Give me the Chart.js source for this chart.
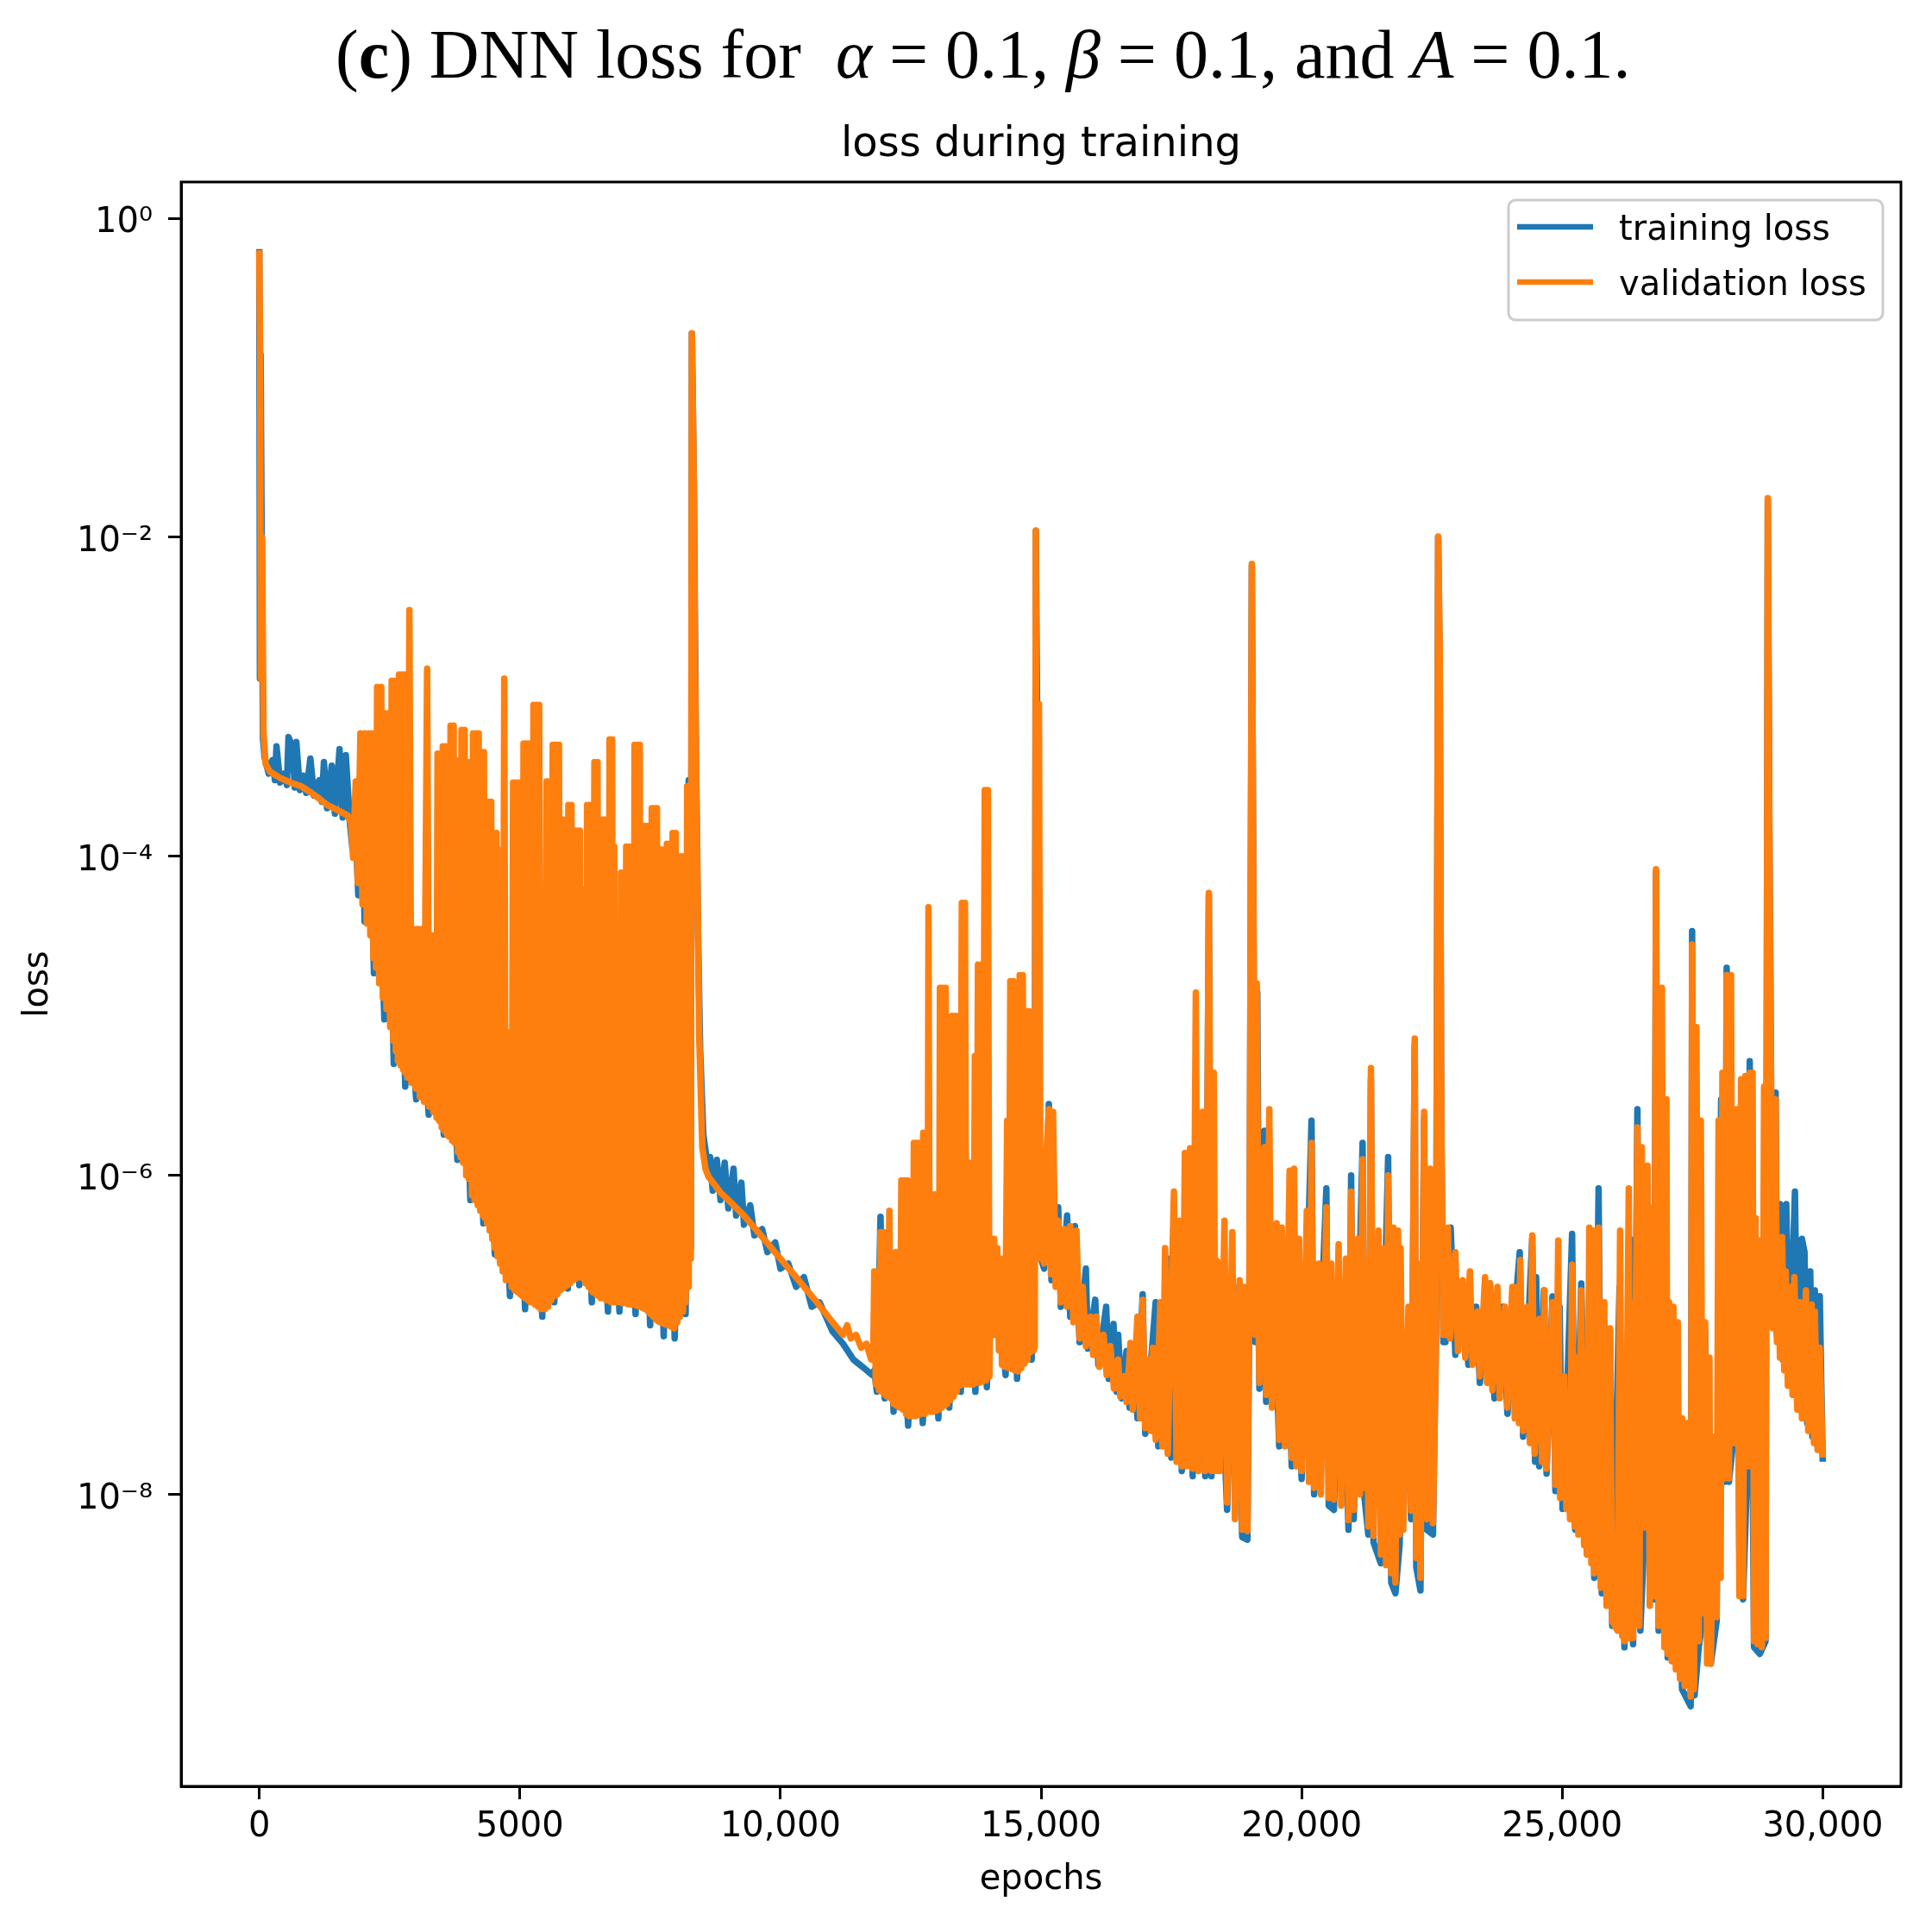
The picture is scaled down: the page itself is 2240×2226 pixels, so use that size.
<!DOCTYPE html>
<html><head><meta charset="utf-8">
<script src="https://cdn.jsdelivr.net/npm/chart.js@4.4.1/dist/chart.umd.min.js"></script>
<style>
html,body{margin:0;padding:0;background:#fff;}
#wrap{position:relative;width:2240px;height:2226px;background:#fff;}
#cap{position:absolute;left:389px;top:23px;white-space:nowrap;font-family:"Liberation Serif",serif;font-size:80px;line-height:80px;color:#000;}
#cap b{font-weight:bold;}
#cap i{font-style:italic;}
canvas{position:absolute;left:0;top:0;}
</style></head><body>
<div id="wrap"><canvas id="c" width="2240" height="2226"></canvas>
<div id="cap">(<b>c</b>) DNN loss for&nbsp; <i>α</i> = 0.1, <i>β</i> = 0.1, and <i>A</i> = 0.1.</div></div>
<script>
// ---- tick labels ----
const xTickValues = [0, 5000, 10000, 15000, 20000, 25000, 30000];
const xTickLabels = ['0', '5000', '10,000', '15,000', '20,000', '25,000', '30,000'];
const yTickValues = [1e-8, 1e-6, 1e-4, 1e-2, 1];
const yTickLabels = ['10\u207B\u2078', '10\u207B\u2076', '10\u207B\u2074', '10\u207B\u00B2', '10\u2070'];
const seriesNames = ['training loss', 'validation loss'];

// ---- validation loss [epoch, loss] ----
const valStart = [[0,0.63],[15,0.14],[30,1.3e-3],[55,1.0e-2],[80,6e-4],[120,3.8e-4],[200,3.4e-4],[400,3.1e-4],[600,2.9e-4],[800,2.75e-4],[1000,2.5e-4],[1150,2.3e-4],[1300,2.1e-4],[1500,1.95e-4],[1700,1.8e-4]];
const valBand1 = [[1760,1.6e-4],[1800,9.8e-5],[1850,2.95e-4],[1890,6.8e-5],[1940,5.9e-4],[1980,5.0e-5],[2020,5.9e-4],[2060,3.8e-5],[2100,5.9e-4],[2130,3.2e-5],[2160,5.9e-4],[2190,2.3e-5],[2210,4.1e-4],[2240,2.0e-5],[2260,1.15e-3],[2300,1.6e-5],[2340,1.15e-3],[2370,1.3e-5],[2400,7.9e-4],[2440,1.1e-5],[2480,7.9e-4],[2510,8.5e-6],[2540,1.26e-3],[2570,7.0e-6],[2600,1.26e-3],[2620,6.0e-6],[2640,4.3e-4],[2660,5.2e-6],[2680,1.38e-3],[2710,4.9e-6],[2740,1.38e-3],[2760,4.6e-6],[2780,1.38e-3],[2800,4.4e-6],[2820,3.2e-5],[2840,4.1e-6],[2880,3.5e-3],[2920,3.8e-6],[2960,3.5e-5],[3000,3.5e-6],[3040,3.5e-5],[3080,3.1e-6],[3120,3.5e-5],[3160,2.9e-6],[3220,1.5e-3],[3260,2.7e-6],[3300,3.2e-5],[3340,2.5e-6],[3380,3.2e-5],[3400,2.3e-6],[3420,4.4e-4],[3450,2.2e-6],[3470,4.4e-4],[3500,2.0e-6],[3520,4.9e-4],[3550,1.9e-6],[3580,4.9e-4],[3600,1.8e-6],[3620,1.8e-4],[3640,1.75e-6],[3670,6.6e-4],[3700,1.65e-6],[3730,6.6e-4],[3750,1.6e-6],[3780,4.0e-4],[3810,1.4e-6],[3830,4.0e-4],[3860,1.3e-6],[3880,6.2e-4],[3910,1.2e-6],[3940,6.2e-4],[3970,1.0e-6],[3990,3.9e-4],[4020,9.5e-7],[4050,3.9e-4],[4080,7.5e-7],[4100,5.9e-4],[4130,7.0e-7],[4160,5.9e-4],[4190,6.5e-7],[4210,5.9e-4],[4240,6.0e-7],[4260,4.5e-4],[4290,5.6e-7],[4310,4.5e-4],[4330,5.4e-7],[4350,1.26e-4],[4370,5.0e-7],[4390,2.2e-4],[4420,4.5e-7],[4450,2.2e-4],[4470,4.0e-7],[4490,1.4e-4],[4520,3.5e-7],[4550,1.4e-4],[4570,3.1e-7],[4590,1.1e-4],[4620,2.8e-7],[4640,1.1e-4],[4670,2.5e-7],[4700,1.3e-3],[4730,2.2e-7],[4790,7.9e-6],[4840,2.0e-7],[4870,2.9e-4],[4900,1.9e-7],[4930,2.9e-4],[4960,1.85e-7],[4990,2.9e-4],[5010,1.8e-7],[5030,2.0e-4],[5050,1.75e-7],[5070,5.1e-4],[5100,1.7e-7],[5130,5.1e-4],[5160,1.65e-7],[5180,5.1e-4],[5200,1.6e-7],[5220,4.1e-5],[5240,1.6e-7],[5260,8.9e-4],[5290,1.55e-7],[5320,8.9e-4],[5350,1.5e-7],[5370,8.9e-4],[5400,1.45e-7],[5440,6.0e-6],[5480,1.45e-7],[5510,2.95e-4],[5540,1.5e-7],[5570,2.95e-4],[5600,1.65e-7],[5630,5.0e-4],[5660,1.75e-7],[5690,5.0e-4],[5720,1.8e-7],[5750,5.0e-4],[5770,1.9e-7],[5790,1.0e-5],[5810,1.95e-7],[5830,1.7e-4],[5860,2.0e-7],[5890,1.7e-4],[5910,2.05e-7],[5930,2.1e-4],[5960,2.1e-7],[5990,2.1e-4],[6020,2.2e-7],[6040,1.45e-4],[6070,2.25e-7],[6100,1.45e-4],[6130,2.3e-7],[6150,1.45e-4],[6170,2.3e-7],[6190,6.2e-5],[6220,2.25e-7],[6250,6.2e-5],[6260,2.1e-7],[6290,2.1e-4],[6320,2.0e-7],[6350,2.1e-4],[6370,1.9e-7],[6390,8.1e-5],[6400,1.85e-7],[6430,3.9e-4],[6460,1.8e-7],[6490,3.9e-4],[6510,1.75e-7],[6530,4.9e-5],[6550,1.7e-7],[6570,1.7e-4],[6600,1.7e-7],[6630,1.7e-4],[6660,1.65e-7],[6680,1.7e-4],[6700,1.65e-7],[6720,5.4e-4],[6750,1.6e-7],[6770,5.4e-4],[6790,1.6e-7],[6810,1.15e-4],[6830,1.6e-7],[6880,7.9e-6],[6920,1.6e-7],[6940,7.9e-5],[6970,1.58e-7],[7000,7.9e-5],[7020,1.58e-7],[7040,1.15e-4],[7070,1.56e-7],[7100,1.15e-4],[7130,1.55e-7],[7160,1.15e-4],[7180,1.55e-7],[7200,5.0e-4],[7230,1.53e-7],[7260,5.0e-4],[7290,1.5e-7],[7300,5.0e-4],[7320,1.5e-7],[7335,1.0e-5],[7350,1.48e-7],[7370,1.55e-4],[7400,1.45e-7],[7430,1.55e-4],[7460,1.4e-7],[7490,1.55e-4],[7510,1.35e-7],[7530,2.0e-4],[7560,1.3e-7],[7590,2.0e-4],[7610,1.25e-7],[7630,2.0e-4],[7650,1.22e-7],[7670,2.0e-5],[7690,1.2e-7],[7710,1.1e-4],[7740,1.18e-7],[7770,1.1e-4],[7800,1.16e-7],[7820,1.2e-4],[7850,1.15e-7],[7880,1.2e-4],[7910,1.12e-7],[7930,1.4e-4],[7960,1.1e-7],[7990,1.4e-4],[8020,1.2e-7],[8040,1.0e-4],[8070,1.3e-7],[8100,1.0e-4],[8130,1.4e-7],[8160,1.0e-4],[8180,1.6e-7],[8210,2.75e-4],[8240,2.0e-7],[8260,2.75e-4],[8280,3.0e-7]];
const valSpike1 = [[8300,0.19],[8330,0.035],[8360,1.5e-3],[8400,1.2e-4],[8440,7.6e-6],[8500,1.5e-6],[8560,1.1e-6]];
const valSmooth1 = [[8620,9.8e-7],[8850,7.8e-7],[9000,7.0e-7],[9300,5.6e-7],[9600,4.3e-7],[10000,3.0e-7],[10300,2.3e-7],[10700,1.6e-7],[11000,1.2e-7],[11200,1.0e-7],[11280,1.15e-7],[11350,9.5e-8],[11450,1.0e-7],[11550,8.3e-8],[11650,8.8e-8],[11740,7.0e-8]];
const valBand2 = [[11780,7.0e-8],[11800,2.5e-7],[11830,4.9e-8],[11860,2.5e-7],[11890,4.5e-8],[11920,4.4e-7],[11950,4.4e-8],[11980,4.4e-7],[12010,4.2e-8],[12030,1.45e-7],[12050,4.1e-8],[12090,6.0e-7],[12120,4.0e-8],[12150,1.5e-7],[12170,3.7e-8],[12200,3.3e-7],[12230,3.6e-8],[12260,3.3e-7],[12290,3.5e-8],[12320,9.3e-7],[12350,3.4e-8],[12380,9.3e-7],[12410,3.2e-8],[12440,9.3e-7],[12470,3.1e-8],[12500,1.9e-7],[12530,3.1e-8],[12560,1.6e-6],[12590,3.1e-8],[12620,1.6e-6],[12650,3.15e-8],[12680,1.6e-6],[12710,3.2e-8],[12740,1.85e-6],[12770,3.2e-8],[12800,1.85e-6],[12820,3.3e-8],[12840,4.8e-5],[12870,3.3e-8],[12900,7.6e-7],[12930,3.3e-8],[12960,7.6e-7],[12990,3.35e-8],[13020,7.6e-7],[13040,3.4e-8],[13060,1.5e-5],[13090,3.5e-8],[13120,1.5e-5],[13150,3.6e-8],[13170,1.5e-5],[13200,3.7e-8],[13230,6.2e-6],[13260,3.9e-8],[13290,1.0e-5],[13320,4.1e-8],[13350,1.0e-5],[13380,4.4e-8],[13410,1.0e-5],[13440,4.8e-8],[13480,5.1e-5],[13510,4.9e-8],[13540,5.1e-5],[13570,4.9e-8],[13610,1.2e-6],[13640,4.9e-8],[13670,1.2e-6],[13700,4.9e-8],[13730,5.6e-6],[13760,5.0e-8],[13790,2.1e-5],[13820,5.0e-8],[13850,2.1e-5],[13880,5.1e-8],[13920,2.6e-4],[13950,5.2e-8],[13980,2.6e-4],[14010,5.5e-8],[14040,4.0e-7],[14070,1.0e-7],[14100,4.0e-7],[14130,1.1e-7],[14160,3.5e-7],[14190,8.0e-8],[14220,3.0e-7],[14250,6.5e-8],[14280,3.0e-7],[14310,6.3e-8],[14350,2.2e-6],[14380,6.2e-8],[14410,1.65e-5],[14440,6.1e-8],[14470,1.65e-5],[14500,6.0e-8],[14530,9.5e-6],[14560,5.9e-8],[14590,1.8e-5],[14620,6.2e-8],[14650,1.8e-5],[14680,6.6e-8],[14710,1.07e-5],[14740,7.0e-8],[14770,1.07e-5],[14800,7.8e-8],[14830,4.0e-6],[14860,8.0e-8],[14880,8.5e-8]];
const valSpike2 = [[14900,1.1e-2],[14930,3.0e-7],[14960,9.0e-4],[14990,3.4e-7]];
const valDecline = [[15060,2.8e-7],[15110,1.5e-6],[15150,2.6e-6],[15190,2.4e-7],[15230,2.5e-6],[15280,2.0e-7],[15330,5.2e-7],[15380,1.6e-7],[15450,4.6e-7],[15500,1.5e-7],[15560,4.8e-7],[15620,1.2e-7],[15680,4.5e-7],[15740,9.5e-8],[15800,2.0e-7],[15860,8.5e-8],[15950,1.3e-7],[16000,7.5e-8],[16060,1.3e-7],[16120,6.3e-8],[16200,1.0e-7],[16260,5.6e-8],[16330,8.5e-8],[16400,4.6e-8],[16480,7.0e-8],[16520,4.1e-8],[16600,5.5e-8],[16640,3.8e-8],[16716,8.9e-8],[16760,3.4e-8],[16850,1.3e-7],[16900,3.0e-8],[16950,1.66e-7],[17000,2.6e-8],[17060,7.0e-8],[17100,2.5e-8],[17145,8.3e-8],[17200,2.2e-8],[17290,1.6e-7],[17330,2.0e-8],[17380,3.5e-7],[17430,1.8e-8],[17550,7.9e-7],[17600,1.6e-8],[17650,5.2e-7],[17700,1.5e-8]];
const valBand3 = [[17760,1.38e-6],[17800,1.5e-8],[17860,1.48e-6],[17910,1.45e-8],[17970,1.4e-5],[18020,1.4e-8],[18100,2.5e-6],[18150,1.4e-8],[18220,5.9e-5],[18270,1.4e-8],[18315,4.4e-6],[18350,1.4e-8],[18380,2.9e-7],[18430,1.4e-8],[18520,5.2e-7],[18570,8.9e-9],[18670,4.4e-7],[18720,7.0e-9],[18810,2.2e-7],[18860,6.0e-9],[18900,2.0e-7],[18960,5.9e-9],[19000,3.0e-7]];
const valSpike3 = [[19045,6.8e-3],[19080,2.0e-5],[19110,1.0e-7],[19140,1.6e-5],[19180,8.0e-8]];
const valBand4 = [[19190,5.0e-8],[19240,8.0e-7],[19285,1.5e-6],[19320,4.2e-8],[19380,2.6e-6],[19430,3.5e-8],[19520,5.0e-7],[19570,2.2e-8],[19620,4.7e-7],[19680,2.0e-8],[19770,1.07e-6],[19810,1.7e-8],[19856,1.1e-6],[19900,1.5e-8],[19950,4.0e-7],[20000,1.4e-8],[20100,6.0e-7],[20140,1.2e-8],[20190,1.6e-6],[20240,1.1e-8],[20330,2.8e-7],[20370,1.0e-8],[20475,6.3e-7],[20520,9.5e-9],[20570,2.8e-7],[20620,9.3e-9],[20710,3.7e-7],[20760,8.5e-9],[20850,3.0e-7],[20900,6.9e-9],[20950,7.9e-7],[21000,8.0e-9],[21080,4.0e-7],[21120,1.0e-8],[21170,1.26e-6],[21200,1.1e-8],[21250,3.0e-7],[21280,6.3e-9],[21330,4.7e-6],[21380,5.5e-9],[21475,4.5e-7],[21520,4.2e-9],[21580,3.5e-7],[21620,3.6e-9],[21660,1.0e-6],[21720,3.2e-9],[21760,4.7e-7],[21800,2.8e-9],[21850,4.5e-7],[21880,5.6e-9],[21900,3.5e-7],[21950,6.0e-9],[22050,1.5e-7],[22100,7.9e-9],[22170,7.2e-6],[22200,4.0e-9],[22235,2.8e-7],[22280,3.0e-9],[22350,2.5e-6],[22400,7.0e-9],[22470,1.1e-6],[22520,6.6e-9],[22580,1.0e-7]];
const valSpike4 = [[22620,1.01e-2],[22650,2.0e-3],[22680,2.2e-6],[22720,1.0e-7]];
const valBand5 = [[22760,1.0e-7],[22806,4.7e-7],[22850,9.5e-8],[22950,3.3e-7],[23000,7.9e-8],[23090,2.2e-7],[23140,7.2e-8],[23230,2.5e-7],[23280,6.5e-8],[23377,1.4e-7],[23420,5.5e-8],[23520,2.3e-7],[23560,5.0e-8],[23615,2.1e-7],[23660,4.5e-8],[23757,2.0e-7],[23800,4.0e-8],[23900,1.5e-7],[23950,3.5e-8],[24043,2.0e-7],[24090,3.0e-8],[24138,2.0e-7],[24170,2.8e-8],[24195,2.95e-7],[24250,2.5e-8],[24330,1.5e-7],[24380,2.1e-8],[24425,4.2e-7],[24470,1.8e-8],[24565,1.26e-7],[24610,1.6e-8],[24660,1.9e-7],[24700,1.45e-8],[24814,1.6e-7],[24870,1.15e-8],[24924,3.9e-7],[24960,9.5e-9],[25040,5.5e-8],[25080,8.1e-9],[25100,3.7e-8],[25150,7.0e-9],[25190,2.75e-7],[25240,6.3e-9],[25280,7.2e-8],[25310,5.6e-9],[25366,1.9e-7],[25420,4.8e-9],[25465,5.5e-8],[25476,4.2e-9],[25520,4.7e-7],[25560,3.7e-9],[25590,4.5e-7],[25615,3.2e-9],[25698,4.7e-7],[25740,2.6e-9],[25808,1.6e-7],[25850,2.0e-9],[25918,1.1e-7],[25960,1.6e-9],[26060,1.4e-9],[26111,4.5e-7],[26150,1.3e-9],[26170,7.2e-8],[26195,1.2e-9],[26278,8.3e-7],[26300,1.25e-9],[26333,1.6e-7],[26360,1.26e-9],[26443,2.0e-6],[26480,1.5e-9],[26526,1.5e-6],[26582,6.2e-9],[26637,1.15e-6],[26680,2.0e-9],[26720,6.3e-7],[26760,2.3e-9],[26800,8.3e-5],[26850,1.5e-9],[26913,1.5e-5],[26960,1.1e-9],[27000,3.0e-6],[27024,1.0e-9],[27050,1.6e-7],[27100,9.0e-10],[27135,1.5e-7],[27180,8.0e-10],[27218,1.2e-7],[27260,7.0e-10],[27300,3.0e-8],[27350,6.3e-10],[27410,2.8e-8],[27465,5.4e-10],[27493,2.8e-5],[27530,6.0e-10],[27576,8.5e-6],[27620,1.2e-9],[27660,2.2e-6],[27700,1.8e-9],[27742,1.2e-7],[27780,8.7e-10],[27825,7.2e-8],[27852,8.7e-10],[27908,2.3e-8],[27963,1.7e-9],[28000,2.2e-6],[28040,3.0e-9],[28074,4.4e-6],[28120,1.26e-8],[28156,1.8e-5],[28200,1.26e-8],[28239,1.8e-5],[28270,2.1e-8],[28295,2.6e-6],[28320,2.1e-8],[28350,2.6e-6],[28400,2.3e-9],[28432,4.0e-6],[28470,2.3e-9],[28515,4.2e-6],[28550,1.5e-8],[28598,4.4e-6],[28630,1.5e-8],[28654,4.4e-6],[28681,1.2e-9],[28710,5.4e-7],[28750,1.15e-9],[28792,3.9e-7],[28830,1.1e-9],[28874,3.6e-6],[28902,1.26e-9]];
const valSpike5 = [[28945,1.76e-2],[28975,1.4e-4],[29010,3.0e-6],[29040,1.1e-7],[29095,3.0e-6],[29120,9.0e-8]];
const valEnd = [[29140,3.5e-7],[29178,7.2e-8],[29220,4.1e-7],[29260,6.0e-8],[29289,2.5e-7],[29330,4.8e-8],[29380,2.0e-7],[29420,4.2e-8],[29455,2.3e-7],[29510,3.4e-8],[29560,1.6e-7],[29600,3.0e-8],[29676,1.9e-7],[29720,2.5e-8],[29786,1.55e-7],[29830,2.1e-8],[29847,1.4e-7],[29900,1.9e-8],[29942,8.3e-8],[29999,1.7e-8]];

// ---- training loss [epoch, loss] ----
const trainStart = [[0,0.64],[12,1.3e-3],[25,0.14],[45,1.1e-2],[70,5.5e-4],[100,4.2e-4],[180,3.3e-4],[250,4.0e-4],[300,3.0e-4],[330,4.9e-4],[400,2.9e-4],[480,3.3e-4],[530,2.8e-4],[560,5.6e-4],[640,4.8e-4],[680,2.7e-4],[710,5.2e-4],[780,2.6e-4],[850,3.2e-4],[900,2.5e-4],[980,4.1e-4],[1050,2.4e-4],[1150,3.0e-4],[1200,2.2e-4],[1240,3.9e-4],[1300,2.0e-4],[1390,3.7e-4],[1450,1.85e-4],[1540,4.7e-4],[1600,1.75e-4],[1660,4.3e-4],[1740,1.6e-4]];
const trainBand1 = [[1790,1.1e-4],[1850,1.4e-4],[1900,5.7e-5],[2000,1.0e-4],[2020,3.9e-5],[2150,1.0e-4],[2200,1.85e-5],[2300,1.0e-4],[2400,9.5e-6],[2500,1.0e-4],[2580,5.0e-6],[2700,1.0e-4],[2800,3.6e-6],[2900,1.0e-5],[3010,3.0e-6],[3150,1.0e-5],[3250,2.4e-6],[3400,3.0e-5],[3540,1.8e-6],[3650,3.0e-5],[3800,1.25e-6],[3900,3.0e-5],[4050,7.0e-7],[4150,3.0e-5],[4300,5.0e-7],[4400,3.0e-6],[4520,3.2e-7],[4650,3.0e-6],[4810,1.75e-7],[4950,3.0e-6],[5100,1.45e-7],[5250,3.0e-6],[5430,1.3e-7],[5550,3.0e-6],[5660,1.6e-7],[5800,3.0e-6],[5920,1.95e-7],[6050,3.0e-6],[6140,2.05e-7],[6250,3.0e-6],[6380,1.6e-7],[6500,3.0e-6],[6690,1.4e-7],[6800,3.0e-6],[6910,1.4e-7],[7050,3.0e-6],[7220,1.35e-7],[7350,3.0e-6],[7500,1.15e-7],[7600,3.0e-6],[7760,9.8e-8],[7900,3.0e-6],[7970,9.5e-8],[8100,3.0e-6],[8180,1.35e-7],[8240,3.0e-4],[8280,3.5e-7]];
const trainSpike1 = [[8300,0.19],[8340,0.02],[8380,4.0e-4],[8420,3.0e-5],[8460,6.0e-6],[8520,1.8e-6],[8580,1.3e-6]];
const trainSmooth1 = [[8650,1.3e-6],[8700,8.0e-7],[8780,1.25e-6],[8850,7.0e-7],[8930,1.2e-6],[9000,6.2e-7],[9100,1.1e-6],[9150,5.6e-7],[9250,9.0e-7],[9300,4.9e-7],[9420,6.5e-7],[9500,4.2e-7],[9650,4.6e-7],[9750,3.3e-7],[9900,3.8e-7],[10000,2.6e-7],[10150,2.8e-7],[10300,2.0e-7],[10450,2.3e-7],[10600,1.5e-7],[10750,1.6e-7],[11000,1.05e-7],[11200,8.8e-8],[11400,7.0e-8],[11600,6.2e-8],[11760,5.6e-8]];
const trainBand2 = [[11800,6.0e-8],[11850,4.4e-8],[11920,5.5e-7],[12000,4.0e-8],[12100,2.0e-7],[12170,3.3e-8],[12300,2.0e-7],[12450,2.7e-8],[12600,5.0e-7],[12730,2.8e-8],[12900,5.0e-7],[13030,3.0e-8],[13150,1.0e-6],[13240,3.5e-8],[13400,1.0e-6],[13460,4.4e-8],[13600,1.0e-6],[13740,4.4e-8],[13850,1.0e-6],[13960,4.7e-8],[14050,3.0e-7],[14110,1.0e-7],[14200,2.0e-7],[14320,5.6e-8],[14450,1.0e-6],[14540,5.3e-8],[14700,1.0e-6],[14820,7.0e-8],[14880,1.0e-6]];
const trainSpike2 = [[14900,1.1e-2],[14925,8.0e-4],[14950,3.5e-7],[15000,3.0e-7]];
const trainDecline = [[15060,2.6e-7],[15150,2.8e-6],[15200,2.2e-7],[15330,6.3e-7],[15380,1.5e-7],[15500,5.6e-7],[15560,1.3e-7],[15650,4.8e-7],[15740,9.0e-8],[15860,2.6e-7],[15900,8.2e-8],[16040,1.66e-7],[16100,6.5e-8],[16250,1.5e-7],[16300,5.3e-8],[16390,1.17e-7],[16450,4.4e-8],[16480,1.0e-7],[16550,4.0e-8],[16640,7.9e-8],[16700,3.5e-8],[16790,7.1e-8],[16850,3.0e-8],[16950,1.8e-7],[17000,2.4e-8],[17200,1.6e-7],[17250,2.0e-8],[17450,3.0e-7],[17500,1.7e-8],[17650,4.0e-7],[17700,1.4e-8]];
const trainBand3 = [[17800,4.0e-7],[17910,1.3e-8],[18000,1.0e-6],[18150,1.3e-8],[18220,5.7e-5],[18270,1.3e-8],[18400,2.0e-7],[18570,8.0e-9],[18700,2.0e-7],[18860,5.4e-9],[18960,5.2e-9],[19000,2.0e-7]];
const trainSpike3 = [[19045,6.6e-3],[19080,2.5e-5],[19110,9.0e-8],[19150,1.4e-5],[19190,4.6e-8]];
const trainBand4 = [[19285,1.9e-6],[19320,3.8e-8],[19450,3.0e-7],[19570,2.0e-8],[19700,3.0e-7],[19810,1.5e-8],[19900,2.0e-7],[20000,1.25e-8],[20190,2.2e-6],[20240,1.0e-8],[20400,2.0e-7],[20475,8.3e-7],[20520,8.5e-9],[20620,8.0e-9],[20750,2.0e-7],[20900,6.0e-9],[20950,1.0e-6],[21000,7.0e-9],[21170,1.6e-6],[21200,1.0e-8],[21280,5.6e-9],[21330,4.0e-6],[21380,5.0e-9],[21520,3.7e-9],[21600,2.0e-7],[21660,1.3e-6],[21720,2.8e-9],[21800,2.4e-9],[21880,4.8e-9],[22000,1.0e-7],[22100,7.0e-9],[22170,6.5e-6],[22200,3.5e-9],[22280,2.5e-9],[22350,2.3e-6],[22400,6.0e-9],[22520,5.6e-9],[22580,1.0e-7]];
const trainSpike4 = [[22620,1.0e-2],[22650,1.5e-3],[22680,2.0e-6],[22720,9.0e-8]];
const trainBand5 = [[22760,9.0e-8],[22860,4.7e-7],[22950,7.5e-8],[23100,2.0e-7],[23200,6.5e-8],[23350,1.5e-7],[23420,5.0e-8],[23615,2.1e-7],[23700,4.0e-8],[23850,1.5e-7],[23950,3.2e-8],[24100,1.5e-7],[24185,3.3e-7],[24250,2.3e-8],[24425,4.0e-7],[24480,1.6e-8],[24500,2.3e-7],[24560,1.5e-8],[24648,1.9e-7],[24700,1.35e-8],[24814,1.74e-7],[24870,1.05e-8],[24950,1.5e-7],[25007,8.1e-9],[25100,5.0e-8],[25190,4.3e-7],[25250,6.0e-9],[25366,2.1e-7],[25476,4.2e-9],[25560,2.0e-7],[25615,3.0e-9],[25698,8.3e-7],[25760,2.4e-9],[25850,1.0e-7],[25918,1.07e-7],[25960,1.5e-9],[26100,2.0e-7],[26195,1.1e-9],[26300,4.0e-7],[26360,1.15e-9],[26443,2.6e-6],[26500,1.4e-9],[26582,6.2e-9],[26700,2.0e-7],[26760,2.2e-9],[26800,8.0e-5],[26850,1.4e-9],[26957,3.0e-6],[27024,9.5e-10],[27150,1.0e-7],[27300,6.0e-10],[27465,4.7e-10],[27493,3.4e-5],[27540,5.5e-10],[27620,1.1e-9],[27700,1.7e-9],[27742,1.07e-7],[27852,8.7e-10],[27963,1.6e-9],[28050,3.0e-6],[28120,1.2e-8],[28156,2.0e-5],[28200,1.2e-8],[28270,2.0e-8],[28350,2.0e-6],[28400,4.5e-9],[28470,2.2e-9],[28550,1.4e-8],[28598,5.2e-6],[28681,1.1e-9],[28792,1.0e-9],[28902,1.2e-9]];
const trainSpike5 = [[28945,1.7e-2],[28975,1.5e-4],[29010,3.0e-6],[29040,1.2e-7],[29095,3.3e-6],[29120,1.0e-7]];
const trainEnd = [[29180,6.6e-7],[29230,7.0e-8],[29300,6.6e-7],[29350,5.0e-8],[29466,7.9e-7],[29520,3.6e-8],[29600,4.0e-7],[29650,3.3e-7],[29700,2.8e-8],[29760,2.5e-7],[29800,2.3e-8],[29847,1.9e-7],[29900,2.0e-8],[29942,1.75e-7],[29999,1.6e-8]];

const trainingLoss = [].concat(trainStart, trainBand1, trainSpike1, trainSmooth1, trainBand2, trainSpike2, trainDecline, trainBand3, trainSpike3, trainBand4, trainSpike4, trainBand5, trainSpike5, trainEnd);
const validationLoss = [].concat(valStart, valBand1, valSpike1, valSmooth1, valBand2, valSpike2, valDecline, valBand3, valSpike3, valBand4, valSpike4, valBand5, valSpike5, valEnd);

const FONT = 'DejaVu Sans';

const frameAndLegend = {
  id: 'frameAndLegend',
  afterDatasetsDraw(chart) {
    const {ctx, chartArea: a} = chart;
    ctx.save();
    ctx.strokeStyle = '#000';
    ctx.lineWidth = 3;
    ctx.strokeRect(a.left, a.top, a.right - a.left, a.bottom - a.top);
    // legend (upper right)
    const w = 434, h = 139;
    const x0 = a.right - 21 - w, y0 = a.top + 21;
    ctx.beginPath();
    ctx.roundRect(x0, y0, w, h, 8);
    ctx.fillStyle = 'rgba(255,255,255,0.8)';
    ctx.fill();
    ctx.lineWidth = 3;
    ctx.strokeStyle = '#cccccc';
    ctx.stroke();
    ctx.font = '40px "' + FONT + '"';
    ctx.textBaseline = 'middle';
    ctx.textAlign = 'left';
    chart.data.datasets.forEach((ds, i) => {
      const ly = y0 + 31 + i * 64;
      ctx.beginPath();
      ctx.moveTo(x0 + 10, ly);
      ctx.lineTo(x0 + 98, ly);
      ctx.strokeStyle = ds.borderColor;
      ctx.lineWidth = 6.5;
      ctx.lineCap = 'butt';
      ctx.stroke();
      ctx.fillStyle = '#000';
      ctx.fillText(ds.label, x0 + 128, ly + 5);
    });
    ctx.restore();
  }
};

new Chart(document.getElementById('c'), {
  type: 'line',
  data: {
    datasets: [
      { label: seriesNames[0], data: trainingLoss, borderColor: '#1f77b4', backgroundColor: '#1f77b4',
        borderWidth: 7.5, pointRadius: 0, tension: 0, order: 1, borderJoinStyle: 'round', fill: false },
      { label: seriesNames[1], data: validationLoss, borderColor: '#ff7f0e', backgroundColor: '#ff7f0e',
        borderWidth: 7.5, pointRadius: 0, tension: 0, order: 0, borderJoinStyle: 'round', fill: false }
    ]
  },
  options: {
    responsive: false,
    devicePixelRatio: 1,
    animation: false,
    events: [],
    layout: { padding: { left: 0, right: 36, top: 0, bottom: 0 } },
    plugins: {
      legend: { display: false },
      tooltip: { enabled: false },
      title: {
        display: true, text: 'loss during training', fullSize: false,
        font: { family: FONT, size: 48, weight: 'normal' }, color: '#000',
        padding: { top: 140, bottom: 13.4 }
      }
    },
    scales: {
      x: {
        type: 'linear', min: -1500, max: 31500,
        afterBuildTicks: s => { s.ticks = xTickValues.map(v => ({ value: v })); },
        afterFit: s => { s.height = 155; },
        ticks: { callback: v => xTickLabels[xTickValues.indexOf(v)], font: { family: FONT, size: 40 }, color: '#000',
                 padding: 9, maxRotation: 0, autoSkip: false },
        grid: { display: true, drawOnChartArea: false, drawTicks: true, tickLength: 15, tickWidth: 3, tickColor: '#000' },
        border: { display: true, color: '#000', width: 3 },
        title: { display: true, text: 'epochs', font: { family: FONT, size: 40 }, color: '#000', padding: { top: 0, bottom: 22 } }
      },
      y: {
        type: 'logarithmic', min: 1.479e-10, max: 1.687,
        afterBuildTicks: s => { s.ticks = yTickValues.map(v => ({ value: v })); },
        afterFit: s => { s.width = 210; },
        ticks: { callback: v => yTickLabels[yTickValues.indexOf(v)], font: { family: FONT, size: 40 }, color: '#000',
                 padding: 18, labelOffset: 6, autoSkip: false },
        grid: { display: true, drawOnChartArea: false, drawTicks: true, tickLength: 15, tickWidth: 3, tickColor: '#000' },
        border: { display: true, color: '#000', width: 3 },
        title: { display: true, text: 'loss', font: { family: FONT, size: 40 }, color: '#000', padding: { top: 21, bottom: 0 } }
      }
    }
  },
  plugins: [frameAndLegend]
});
</script>
</body></html>
